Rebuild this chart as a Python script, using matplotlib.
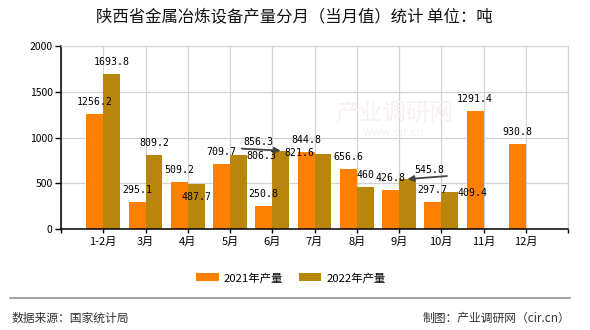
import matplotlib
matplotlib.use("Agg")
import matplotlib.pyplot as plt
from matplotlib.patches import Patch
from matplotlib.lines import Line2D
import numpy as np

plt.rcParams['font.family'] = ['Noto Sans CJK SC', 'DejaVu Sans']

# ---- data ----
categories = ['1-2月', '3月', '4月', '5月', '6月', '7月', '8月', '9月', '10月', '11月', '12月']
values_2021 = [1256.2, 295.1, 509.2, 709.7, 250.8, 844.8, 656.6, 426.8, 297.7, 1291.4, 930.8]
values_2022 = [1693.8, 809.2, 487.7, 806.3, 856.3, 821.6, 460, 545.8, 409.4, None, None]
series_names = ['2021年产量', '2022年产量']
title = '陕西省金属冶炼设备产量分月（当月值）统计 单位：吨'
source_text = '数据来源：国家统计局'
credit_text = '制图：产业调研网（cir.cn）'
yticks = [0, 500, 1000, 1500, 2000]

# ---- style ----
c21 = '#FF8000'
c22 = '#B8860B'
W, H = 590, 330
fig = plt.figure(figsize=(W / 100, H / 100), dpi=100)
ax = fig.add_axes([61 / W, 1 - 229 / H, 507 / W, 183 / H])

x = np.arange(len(categories))
bw = 0.4
ax.bar(x - bw / 2, values_2021, width=bw, color=c21, zorder=2)
x22 = [xi for xi, v in zip(x, values_2022) if v is not None]
v22 = [v for v in values_2022 if v is not None]
ax.bar(np.array(x22) + bw / 2, v22, width=bw, color=c22, zorder=2)

ax.set_xlim(-1, len(categories))
ax.set_ylim(0, 2000)
ax.set_yticks(yticks)
ax.set_yticklabels([str(t) for t in yticks], fontsize=7.5)
ticks = list(range(-1, len(categories) + 1))
ax.set_xticks(ticks)
ax.set_xticklabels([''] + categories + [''], fontsize=8)
ax.grid(True, color='#d3d3d3', lw=0.9, zorder=0)
ax.set_axisbelow(True)
for s in ['top', 'right']:
    ax.spines[s].set_color('#d3d3d3')
for s in ['left', 'bottom']:
    ax.spines[s].set_color('black')
    ax.spines[s].set_linewidth(1.1)
ax.tick_params(axis='y', length=4, width=1, pad=2, colors='black')
ax.tick_params(axis='x', length=3, width=1, pad=3, colors='black')

# ---- data labels ----
mono = dict(family='DejaVu Sans Mono', fontsize=7.1, color='black')
off21 = {}
off22 = {2: (0, -15.5), 3: (22.5, -3.5), 4: (-22, 6), 5: (-24, -2.5), 7: (21.5, 6.5), 8: (22.5, -4)}
arrows22 = {4: (-39, 2), 7: (39.5, 3)}

def fmt(v):
    return ('%g' % v)

for i, v in enumerate(values_2021):
    dx, dy = off21.get(i, (0, 9))
    ax.annotate(fmt(v), xy=(i - bw / 2, v), xytext=(dx, dy), textcoords='offset pixels',
                ha='center', va='baseline', zorder=5, **mono)
for i, v in enumerate(values_2022):
    if v is None:
        continue
    dx, dy = off22.get(i, (0, 9))
    ax.annotate(fmt(v), xy=(i + bw / 2, v), xytext=(dx, dy), textcoords='offset pixels',
                ha='center', va='baseline', zorder=5, **mono)
    if i in arrows22:
        tx, ty = arrows22[i]
        ax.annotate('', xy=(i + bw / 2, v), xytext=(tx, ty), textcoords='offset pixels',
                    arrowprops=dict(arrowstyle='-|>', color='#444444', lw=1.3,
                                    mutation_scale=9, shrinkA=0, shrinkB=0), zorder=6)

# ---- watermark (very faint) ----
fig.text(394 / W, 1 - 113 / H, '产业调研网', fontsize=17, color='#f9f0f0', ha='center', va='center', zorder=0)
fig.text(394 / W, 1 - 132 / H, 'www.cir.cn', fontsize=8.5, color='#f8f2f2', ha='center', va='center', zorder=0)

# ---- title ----
fig.text(294 / W, 1 - 18 / H, title, fontsize=11.8, ha='center', va='center', color='#111111')

# ---- legend ----
handles = [Patch(facecolor=c21, edgecolor='none'), Patch(facecolor=c22, edgecolor='none')]
fig.legend(handles, series_names, loc='center', bbox_to_anchor=(291 / W, 1 - 278 / H), ncol=2,
           frameon=False, fontsize=8.2, handlelength=1.95, handleheight=0.72,
           handletextpad=0.45, columnspacing=1.4)

# ---- footer ----
fig.add_artist(Line2D([10 / W, 570 / W], [1 - 298 / H, 1 - 298 / H], color='#888888', lw=1.1,
                      transform=fig.transFigure))
fig.text(12 / W, 1 - 318 / H, source_text, fontsize=8.5, color='#333333', ha='left', va='center')
fig.text(570 / W, 1 - 318 / H, credit_text, fontsize=8.5, color='#333333', ha='right', va='center')

fig.savefig('out.png', dpi=100)
